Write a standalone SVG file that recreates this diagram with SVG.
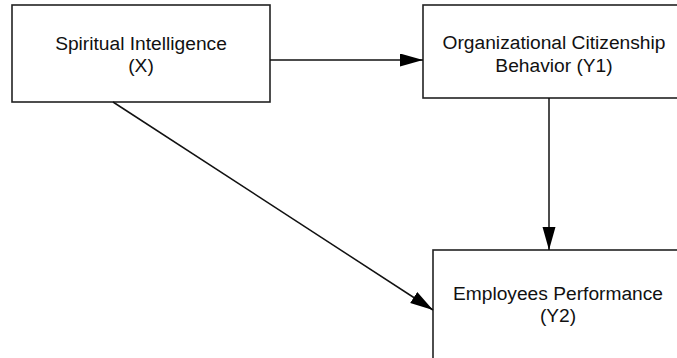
<svg xmlns="http://www.w3.org/2000/svg" width="677" height="358" viewBox="0 0 677 358">
<style>
.box{fill:#fff;stroke:#222;stroke-width:1.6}
.lbl{font-family:"Liberation Sans",Arial,sans-serif;font-size:19.2px;fill:#111;text-anchor:middle}
.edge{stroke:#111;stroke-width:1.5;fill:none}
</style>
<defs>
<marker id="arr" markerUnits="userSpaceOnUse" markerWidth="24" markerHeight="14" refX="23" refY="6.5" orient="auto">
<path d="M0,0 L23,6.5 L0,13 Z" fill="#000"/>
</marker>
</defs>
<rect width="677" height="358" fill="#fff"/>
<g id="node-x">
<rect class="box" x="12" y="5" width="258" height="97"/>
<text class="lbl" x="141" y="50">Spiritual Intelligence</text>
<text class="lbl" x="141" y="72">(X)</text>
</g>
<g id="node-y1">
<rect class="box" x="423" y="5" width="270" height="93"/>
<text class="lbl" x="554" y="49">Organizational Citizenship</text>
<text class="lbl" x="554" y="72">Behavior (Y1)</text>
</g>
<g id="node-y2">
<rect class="box" x="433" y="250" width="260" height="120"/>
<text class="lbl" x="558" y="300">Employees Performance</text>
<text class="lbl" x="558" y="322">(Y2)</text>
</g>
<g id="connectors">
<line class="edge" x1="270" y1="60" x2="423" y2="60" marker-end="url(#arr)"/>
<line class="edge" x1="549" y1="98" x2="549" y2="250" marker-end="url(#arr)"/>
<line class="edge" x1="113" y1="102" x2="433" y2="310" marker-end="url(#arr)"/>
</g>
</svg>
